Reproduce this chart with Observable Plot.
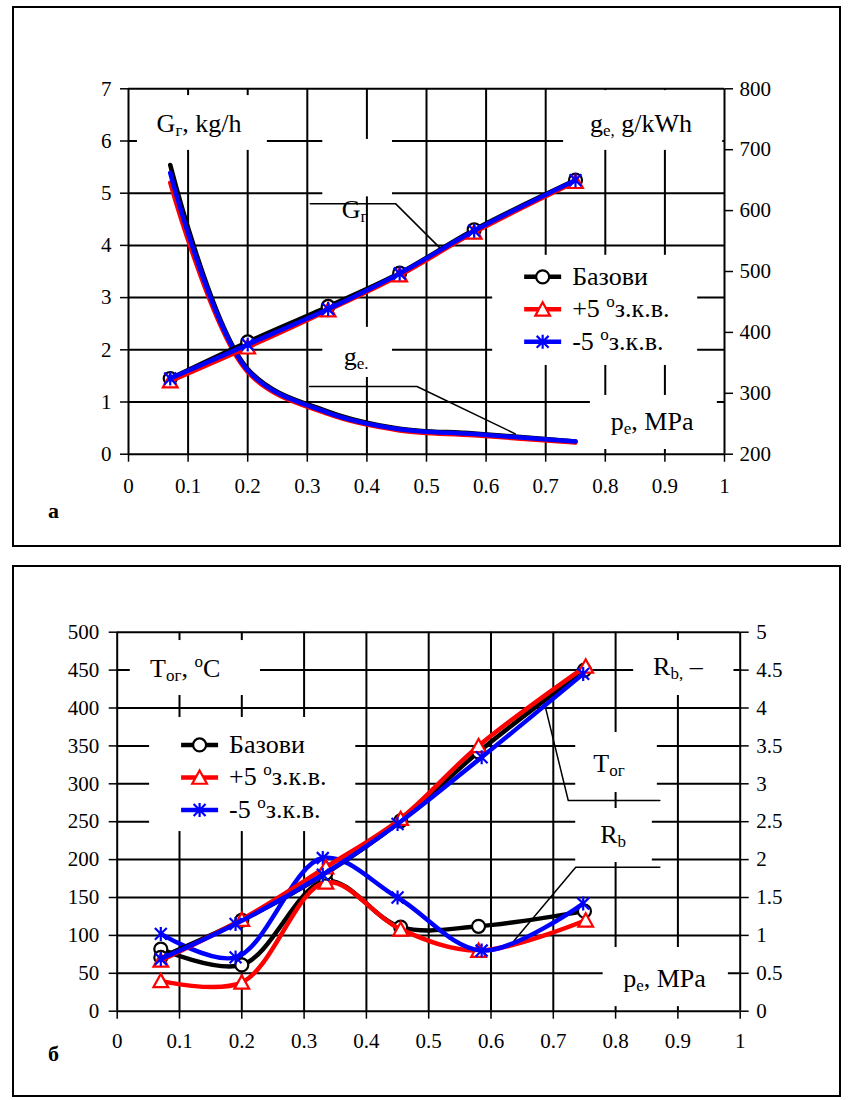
<!DOCTYPE html>
<html>
<head>
<meta charset="utf-8">
<script src="https://cdn.jsdelivr.net/npm/d3@7"></script>
<script src="https://cdn.jsdelivr.net/npm/@observablehq/plot@0.6"></script>
<style>
  html, body { margin: 0; padding: 0; background: #fff; }
  body { width: 851px; height: 1100px; position: relative; overflow: hidden;
         font-family: "Liberation Serif", "Times New Roman", serif; }
  .frame { position: absolute; border: 2px solid #000; box-sizing: border-box; }
  .chart { position: absolute; left: 0; }
  .chart svg { overflow: visible; background: transparent; }
  .tag { position: absolute; font: bold 22px "Liberation Serif", serif; line-height: 22px; }
</style>
</head>
<body>
<div class="frame" style="left:12px; top:6px; width:829px; height:541px;"></div>
<div class="frame" style="left:12px; top:565px; width:829px; height:532px;"></div>
<div id="chartA" class="chart" style="top:0px;"></div>
<div id="chartB" class="chart" style="top:560px;"></div>
<div class="tag" style="left:48px; top:500px;">а</div>
<div class="tag" style="left:48px; top:1043px;">б</div>
<script>
// ================= DATA: chart а =================
const peA      = [0.07, 0.2, 0.335, 0.455, 0.58, 0.75];          // p_e, MPa
const GgBase   = [1.45, 2.15, 2.83, 3.47, 4.30, 5.25];            // G_г, kg/h
const GgPlus5  = [1.40, 2.05, 2.76, 3.43, 4.25, 5.22];
const GgMinus5 = [1.45, 2.10, 2.78, 3.46, 4.28, 5.25];
const geBase   = [675, 340, 270, 242, 234, 221];                  // g_e, g/kWh
const gePlus5  = [646, 335, 266, 239, 231, 219];
const geMinus5 = [662, 338, 268, 241, 233, 221];
const xTicks   = [0, 0.1, 0.2, 0.3, 0.4, 0.5, 0.6, 0.7, 0.8, 0.9, 1];
const GgTicks  = [0, 1, 2, 3, 4, 5, 6, 7];
const geTicks  = [200, 300, 400, 500, 600, 700, 800];

// ================= DATA: chart б =================
const peBBase   = [0.07, 0.2, 0.335, 0.455, 0.58, 0.75];
const peBPlus5  = [0.07, 0.2, 0.335, 0.455, 0.58, 0.752];
const peBMinus5 = [0.07, 0.19, 0.33, 0.45, 0.585, 0.748];
const TogBase   = [71, 120, 182, 251, 342, 450];                  // T_ог, °C
const TogPlus5  = [67, 121, 190, 254, 350, 455];
const TogMinus5 = [69, 115, 180, 247, 335, 445];
const RbBase    = [0.82, 0.61, 1.72, 1.11, 1.12, 1.32];           // R_b, –
const RbPlus5   = [0.40, 0.38, 1.70, 1.08, 0.80, 1.20];
const RbMinus5  = [1.02, 0.71, 2.02, 1.50, 0.80, 1.42];
const TogTicks  = [0, 50, 100, 150, 200, 250, 300, 350, 400, 450, 500];
const RbTicks   = [0, 0.5, 1, 1.5, 2, 2.5, 3, 3.5, 4, 4.5, 5];

// legend entries
const legendNames = [
  [["Базови", "n"]],
  [["+5 ", "n"], ["o", "sup"], ["з.к.в.", "n"]],
  [["-5 ", "n"], ["o", "sup"], ["з.к.в.", "n"]]
];

// ================= annotations (data coordinates) =================
const boxesA = [ // [x1, x2, y1, y2]
  [0.015, 0.233, 5.82, 6.87],
  [0.730, 0.997, 5.82, 6.965],
  [0.326, 0.443, 4.93, 6.03],
  [0.326, 0.443, 1.47, 2.43],
  [0.775, 0.988, 0.09, 1.125],
  [0.611, 0.955, 1.70, 3.81]
];
const leaderGgX = [0.305, 0.448, 0.527], leaderGgY = [4.8, 4.8, 3.9];
const leaderGeX = [0.304, 0.484, 0.649], leaderGeY = [1.297, 1.297, 0.39];
const textsA = [
  {x: 0.048, y: 6.17, parts: [["G","n"],["г","sub"],[", kg/h","n"]]},
  {x: 0.775, y: 6.17, parts: [["g","n"],["e,","sub"],[" g/kWh","n"]]},
  {x: 0.3585, y: 4.515, parts: [["G","n"],["г","sub"]]},
  {x: 0.362, y: 1.70, parts: [["g","n"],["e.","sub"]]},
  {x: 0.81, y: 0.454, parts: [["p","n"],["e","sub"],[", MPa","n"]]}
];
const legendAnchorA = {x: 0.611, y: 3.81};

const boxesB = [
  [0.021, 0.230, 416.5, 489],
  [0.829, 0.990, 416.5, 489],
  [0.736, 0.867, 288.5, 367.7],
  [0.736, 0.859, 196.2, 267.4],
  [0.780, 0.981, 6, 84],
  [0.052, 0.383, 237, 387.5]
];
const leaderTogX = [0.871, 0.724, 0.686], leaderTogY = [278, 278, 405.5];
const leaderRbX  = [0.871, 0.736, 0.637], leaderRbY  = [190, 190, 93];
const textsB = [
  {x: 0.0535, y: 440.6, parts: [["T","n"],["ог","sub"],[", ","n"],["o","sup"],["C","n"]]},
  {x: 0.861, y: 442.9, parts: [["R","n"],["b,","sub"],[" –","n"]]},
  {x: 0.765, y: 315.3, parts: [["T","n"],["ог","sub"]]},
  {x: 0.776, y: 221.2, parts: [["R","n"],["b","sub"]]},
  {x: 0.813, y: 31.7, parts: [["p","n"],["e","sub"],[", MPa","n"]]}
];
const legendAnchorB = {x: 0.052, y: 387.5};

// ================= helpers =================
const FONT = "'Liberation Serif','Times New Roman',serif";
const geToLeft = v => (v - 200) * 7 / 600;
const leftToGe = v => v * 600 / 7 + 200;

const excelStar = {draw(ctx, size) {
  const r = Math.sqrt(size / Math.PI), d = r * 0.85;
  ctx.moveTo(0, -r); ctx.lineTo(0, r);
  ctx.moveTo(-d, -d); ctx.lineTo(d, d);
  ctx.moveTo(-d, d); ctx.lineTo(d, -d);
}};
const excelTriangle = {draw(ctx, size) {
  const r = Math.sqrt(size / Math.PI);
  ctx.moveTo(0, -r); ctx.lineTo(r * 1.05, r * 0.9); ctx.lineTo(-r * 1.05, r * 0.9); ctx.closePath();
}};
const styles = [
  {color: "#000000", symbol: d3.symbolCircle, r: 6.5, fill: "#ffffff"},
  {color: "#ff0000", symbol: excelTriangle, r: 7, fill: "#ffffff"},
  {color: "#0000ff", symbol: excelStar, r: 7, fill: "none"}
];

function seriesMarks(x, y, st, withDots = true) {
  const m = [Plot.line(y, {x, y, curve: "catmull-rom", stroke: st.color, strokeWidth: 4.5,
                           strokeLinejoin: "round", strokeLinecap: "round"})];
  if (withDots) m.push(Plot.dot(y, {x, y, symbol: st.symbol, r: st.r, fill: st.fill,
                                    stroke: st.color, strokeWidth: 2.2}));
  return m;
}

function addParts(t, parts, size) {
  let shift = 0;
  for (const [s, k] of parts) {
    const target = k === "sub" ? 4 : k === "sup" ? -10 : 0;
    const sp = t.append("tspan").attr("dy", target - shift).text(s);
    if (k !== "n") sp.attr("font-size", Math.round(size * 0.64));
    shift = target;
  }
}

function richText(items, size) {
  return (index, scales) => {
    const g = d3.create("svg:g").attr("font-family", FONT).attr("font-size", size)
      .attr("fill", "#000").attr("text-anchor", "start");
    for (const it of items) {
      const t = g.append("text").attr("text-anchor", "start")
        .attr("x", scales.x(it.x)).attr("y", scales.y(it.y));
      addParts(t, it.parts, size);
    }
    return g.node();
  };
}

function legendMark(anchor, firstRow, size) {
  return (index, scales) => {
    const g = d3.create("svg:g").attr("font-family", FONT).attr("font-size", size).attr("text-anchor", "start");
    const x0 = scales.x(anchor.x), y0 = scales.y(anchor.y);
    styles.forEach((st, i) => {
      const y = y0 + firstRow + i * 32.5;
      g.append("line").attr("x1", x0 + 32).attr("x2", x0 + 69).attr("y1", y).attr("y2", y)
        .attr("stroke", st.color).attr("stroke-width", 4.5);
      g.append("path").attr("transform", `translate(${x0 + 50.5},${y})`)
        .attr("d", d3.symbol(st.symbol, Math.PI * st.r * st.r)())
        .attr("fill", st.fill).attr("stroke", st.color).attr("stroke-width", 2.2);
      const t = g.append("text").attr("text-anchor", "start")
        .attr("x", x0 + 80).attr("y", y + 8).attr("fill", "#000");
      addParts(t, legendNames[i], size);
    });
    return g.node();
  };
}

const gridStyle = {stroke: "#000", strokeOpacity: 1, strokeWidth: 2};
const fmtNum = d => String(+d.toFixed(3));

// ================= chart а =================
const plotA = Plot.plot({
  width: 851, height: 560,
  marginLeft: 128, marginRight: 127, marginTop: 88.3, marginBottom: 106.3,
  style: {fontFamily: FONT, fontSize: "21px", color: "#000", background: "transparent", overflow: "visible"},
  x: {domain: [0, 1], axis: null},
  y: {domain: [0, 7], axis: null},
  marks: [
    Plot.gridX(xTicks, gridStyle),
    Plot.gridY(GgTicks, gridStyle),
    Plot.axisX(xTicks, {tickSize: 8, tickPadding: 16, strokeWidth: 1.5, tickFormat: fmtNum, label: null}),
    Plot.axisY(GgTicks, {tickSize: 8, tickPadding: 9, strokeWidth: 1.5, tickFormat: fmtNum, label: null}),
    Plot.axisY(geTicks.map(geToLeft), {anchor: "right", tickSize: 8, tickPadding: 7, strokeWidth: 1.5,
                                        tickFormat: d => String(Math.round(leftToGe(d))), label: null}),
    Plot.rect(boxesA, {x1: d => d[0], x2: d => d[1], y1: d => d[2], y2: d => d[3], fill: "#fff"}),
    Plot.line(leaderGgY, {x: leaderGgX, y: leaderGgY, stroke: "#000", strokeWidth: 1.5}),
    Plot.line(leaderGeY, {x: leaderGeX, y: leaderGeY, stroke: "#000", strokeWidth: 1.5}),
    ...seriesMarks(peA, geBase.map(geToLeft), styles[0], false),
    ...seriesMarks(peA, gePlus5.map(geToLeft), styles[1], false),
    ...seriesMarks(peA, geMinus5.map(geToLeft), styles[2], false),
    ...seriesMarks(peA, GgBase, styles[0]),
    ...seriesMarks(peA, GgPlus5, styles[1]),
    ...seriesMarks(peA, GgMinus5, styles[2]),
    richText(textsA, 26),
    legendMark(legendAnchorA, 22, 26)
  ]
});
document.getElementById("chartA").appendChild(plotA);

// ================= chart б =================
const plotB = Plot.plot({
  width: 851, height: 540,
  marginLeft: 116.7, marginRight: 111.3, marginTop: 71.7, marginBottom: 89.3,
  style: {fontFamily: FONT, fontSize: "21px", color: "#000", background: "transparent", overflow: "visible"},
  x: {domain: [0, 1], axis: null},
  y: {domain: [0, 500], axis: null},
  marks: [
    Plot.gridX(xTicks, gridStyle),
    Plot.gridY(TogTicks, gridStyle),
    Plot.axisX(xTicks, {tickSize: 8, tickPadding: 14, strokeWidth: 1.5, tickFormat: fmtNum, label: null}),
    Plot.axisY(TogTicks, {tickSize: 8, tickPadding: 10, strokeWidth: 1.5, tickFormat: fmtNum, label: null}),
    Plot.axisY(RbTicks.map(v => v * 100), {anchor: "right", tickSize: 8, tickPadding: 8, strokeWidth: 1.5,
                                           tickFormat: d => fmtNum(d / 100), label: null}),
    Plot.rect(boxesB, {x1: d => d[0], x2: d => d[1], y1: d => d[2], y2: d => d[3], fill: "#fff"}),
    Plot.line(leaderTogY, {x: leaderTogX, y: leaderTogY, stroke: "#000", strokeWidth: 1.5}),
    Plot.line(leaderRbY, {x: leaderRbX, y: leaderRbY, stroke: "#000", strokeWidth: 1.5}),
    ...seriesMarks(peBBase, RbBase.map(v => v * 100), styles[0]),
    ...seriesMarks(peBPlus5, RbPlus5.map(v => v * 100), styles[1]),
    ...seriesMarks(peBMinus5, RbMinus5.map(v => v * 100), styles[2]),
    ...seriesMarks(peBBase, TogBase, styles[0]),
    ...seriesMarks(peBPlus5, TogPlus5, styles[1]),
    ...seriesMarks(peBMinus5, TogMinus5, styles[2]),
    richText(textsB, 26),
    legendMark(legendAnchorB, 28, 26)
  ]
});
document.getElementById("chartB").appendChild(plotB);
</script>
</body>
</html>
